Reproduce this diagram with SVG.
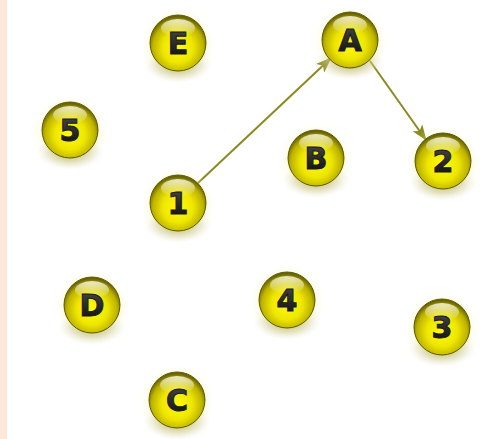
<svg xmlns="http://www.w3.org/2000/svg" width="494" height="439" viewBox="0 0 494 439">
<style>
.lbl{font-family:"DejaVu Sans",sans-serif;font-weight:bold;font-size:30px;text-anchor:middle;fill:url(#txt);stroke:#1a1a1a;stroke-width:1px}
.edge{stroke:#8c8a1e;stroke-width:2;fill:none;marker-end:url(#arr)}
</style>
<defs>
<radialGradient id="ball" cx="0.5" cy="0.58" r="0.55">
<stop offset="0" stop-color="#fffb10"/>
<stop offset="0.5" stop-color="#eee600"/>
<stop offset="0.82" stop-color="#bdb300"/>
<stop offset="1" stop-color="#6a6400"/>
</radialGradient>
<linearGradient id="hl" x1="0" y1="0" x2="0" y2="1">
<stop offset="0" stop-color="#ffffff" stop-opacity="0.8"/>
<stop offset="1" stop-color="#ffffff" stop-opacity="0"/>
</linearGradient>
<linearGradient id="txt" x1="0" y1="0" x2="0" y2="1">
<stop offset="0" stop-color="#4a4a4a"/>
<stop offset="1" stop-color="#0c0c0c"/>
</linearGradient>
<radialGradient id="glow" cx="0.5" cy="0.5" r="0.5">
<stop offset="0" stop-color="#f0ea60" stop-opacity="0.7"/>
<stop offset="0.7" stop-color="#f6f2a0" stop-opacity="0.35"/>
<stop offset="1" stop-color="#fffbe0" stop-opacity="0"/>
</radialGradient>
<radialGradient id="shadow" cx="0.5" cy="0.5" r="0.5">
<stop offset="0" stop-color="#9a9440" stop-opacity="0.75"/>
<stop offset="0.6" stop-color="#bcb878" stop-opacity="0.35"/>
<stop offset="1" stop-color="#e0dcc0" stop-opacity="0"/>
</radialGradient>
<marker id="arr" viewBox="0 0 16 12" refX="15" refY="6" markerWidth="16" markerHeight="12" markerUnits="userSpaceOnUse" orient="auto">
<path d="M0,0 L16,6 L0,12 L4,6 Z" fill="#8c8a1e"/>
</marker>
<g id="node">
<ellipse cx="0" cy="2" rx="38" ry="38" fill="url(#glow)"/>
<ellipse cx="0" cy="22" rx="34" ry="18" fill="url(#shadow)"/>
<circle r="28" fill="url(#ball)" stroke="#5e5a00" stroke-width="1"/>
<ellipse cx="0" cy="-15" rx="17" ry="9" fill="url(#hl)"/>
</g>
</defs>
<rect width="494" height="439" fill="#ffffff"/>
<rect x="0" y="0" width="7" height="439" fill="#fde6da"/>
<g id="connectors">
<line class="edge" x1="198" y1="183" x2="331" y2="58"/>
<line class="edge" x1="370" y1="61" x2="426" y2="140"/>
</g>
<g id="E"><use href="#node" x="178" y="43"/><text class="lbl" x="178" y="54">E</text></g>
<g id="A"><use href="#node" x="350" y="40"/><text class="lbl" x="350" y="51">A</text></g>
<g id="n5"><use href="#node" x="70" y="130"/><text class="lbl" x="70" y="141">5</text></g>
<g id="B"><use href="#node" x="316" y="158"/><text class="lbl" x="316" y="169">B</text></g>
<g id="n2"><use href="#node" x="443" y="161"/><text class="lbl" x="443" y="172">2</text></g>
<g id="n1"><use href="#node" x="178" y="203"/><text class="lbl" x="178" y="214">1</text></g>
<g id="D"><use href="#node" x="92" y="305"/><text class="lbl" x="92" y="316">D</text></g>
<g id="n4"><use href="#node" x="287" y="300"/><text class="lbl" x="287" y="311">4</text></g>
<g id="n3"><use href="#node" x="442" y="327"/><text class="lbl" x="442" y="338">3</text></g>
<g id="C"><use href="#node" x="177" y="400"/><text class="lbl" x="177" y="411">C</text></g>
</svg>
